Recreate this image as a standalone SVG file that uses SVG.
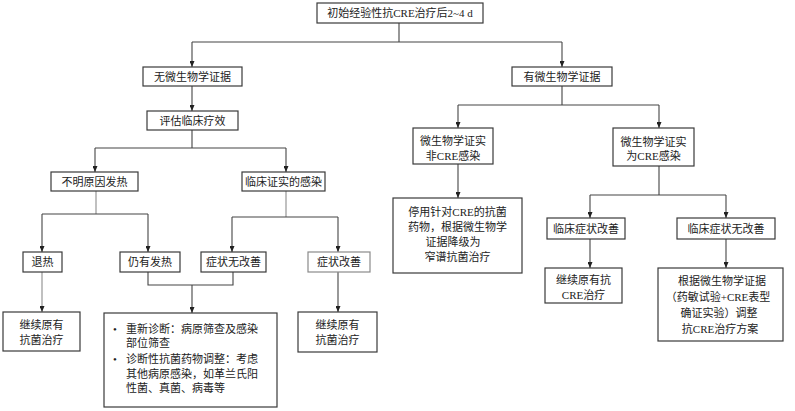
<svg xmlns="http://www.w3.org/2000/svg" width="795" height="411" viewBox="0 0 795 411">
<style>
.box{fill:#fff;stroke:#3a3a3a;stroke-width:1.2}
.lt{stroke:#8a8a8a}
.t{font-family:"Liberation Serif","Noto Sans CJK SC",serif;font-size:11px;fill:#222;text-anchor:middle}
.tl{text-anchor:start}
.c{fill:none;stroke:#444;stroke-width:1.1}
.g{stroke:#8c8c8c}
</style>
<defs>
<marker id="a" markerUnits="userSpaceOnUse" markerWidth="6" markerHeight="5" refX="6" refY="2.5" orient="auto">
<path d="M0,0 L6,2.5 L0,5 z" fill="#222"/>
</marker>
</defs>
<rect width="795" height="411" fill="#fff"/>
<g id="connectors">
<path class="c" d="M399,23 V42 M192,42 H562" />
<path class="c" d="M192,42 V67" marker-end="url(#a)"/>
<path class="c" d="M562,42 V67" marker-end="url(#a)"/>
<path class="c" d="M192,86 V111" marker-end="url(#a)"/>
<path class="c" d="M192,130 V148 M95,148 H286"/>
<path class="c" d="M95,148 V172" marker-end="url(#a)"/>
<path class="c" d="M286,148 V172" marker-end="url(#a)"/>
<path class="c g" d="M96,191 V214"/>
<path class="c" d="M42,214 H148"/>
<path class="c" d="M42,214 V252" marker-end="url(#a)"/>
<path class="c" d="M148,214 V252" marker-end="url(#a)"/>
<path class="c g" d="M286,191 V217"/>
<path class="c" d="M232,217 H338"/>
<path class="c" d="M232,217 V252" marker-end="url(#a)"/>
<path class="c" d="M338,217 V252" marker-end="url(#a)"/>
<path class="c g" d="M42,272 V312" marker-end="url(#a)"/>
<path class="c" d="M148,272 V285 H233 V272"/>
<path class="c" d="M192,285 V313" marker-end="url(#a)"/>
<path class="c" d="M338,272 V312" marker-end="url(#a)"/>
<path class="c" d="M562,86 V105 M458,105 H659"/>
<path class="c" d="M458,105 V128" marker-end="url(#a)"/>
<path class="c" d="M659,105 V128" marker-end="url(#a)"/>
<path class="c" d="M458,164 V198" marker-end="url(#a)"/>
<path class="c" d="M659,166 V195 M590,195 H726"/>
<path class="c" d="M590,195 V218" marker-end="url(#a)"/>
<path class="c" d="M726,195 V218" marker-end="url(#a)"/>
<path class="c" d="M590,239 V268" marker-end="url(#a)"/>
<path class="c" d="M726,239 V268" marker-end="url(#a)"/>
</g>
<g id="n_top"><rect class="box" x="317" y="3" width="166" height="20"/><text class="t" x="400" y="17">初始经验性抗CRE治疗后2~4 d</text></g>
<g id="n_nomicro"><rect class="box" x="143" y="67" width="99" height="19"/><text class="t" x="192.5" y="80.5">无微生物学证据</text></g>
<g id="n_eval"><rect class="box" x="147" y="111" width="91" height="19"/><text class="t" x="192.5" y="124.5">评估临床疗效</text></g>
<g id="n_fever"><rect class="box" x="51" y="172" width="87" height="19"/><text class="t" x="94.5" y="185.5">不明原因发热</text></g>
<g id="n_clin"><rect class="box" x="242" y="172" width="83" height="19"/><text class="t" x="283.5" y="185.5">临床证实的感染</text></g>
<g id="n_tuire"><rect class="box" x="23" y="252" width="39" height="20"/><text class="t" x="42.5" y="266">退热</text></g>
<g id="n_still"><rect class="box" x="120" y="252" width="60" height="20"/><text class="t" x="150" y="266">仍有发热</text></g>
<g id="n_noimp"><rect class="box" x="201" y="252" width="65" height="20"/><text class="t" x="233.5" y="266">症状无改善</text></g>
<g id="n_imp"><rect class="box lt" x="308" y="252" width="62" height="20"/><text class="t" x="339" y="266">症状改善</text></g>
<g id="n_cont1"><rect class="box" x="3" y="312" width="77" height="39"/><text class="t" x="41.5" y="329">继续原有</text><text class="t" x="41.5" y="344">抗菌治疗</text></g>
<g id="n_rediag"><rect class="box" x="104" y="313" width="173" height="94"/>
<text class="t tl" x="113" y="333">•</text><text class="t tl" x="126" y="333">重新诊断：病原筛查及感染</text>
<text class="t tl" x="126" y="347">部位筛查</text>
<text class="t tl" x="113" y="363">•</text><text class="t tl" x="126" y="363">诊断性抗菌药物调整：考虑</text>
<text class="t tl" x="126" y="378">其他病原感染，如革兰氏阳</text>
<text class="t tl" x="126" y="392">性菌、真菌、病毒等</text></g>
<g id="n_cont2"><rect class="box" x="298" y="312" width="79" height="40"/><text class="t" x="337.5" y="329">继续原有</text><text class="t" x="337.5" y="344">抗菌治疗</text></g>
<g id="n_micro"><rect class="box" x="512" y="67" width="100" height="19"/><text class="t" x="562" y="80.5">有微生物学证据</text></g>
<g id="n_noncre"><rect class="box" x="413" y="128" width="80" height="36"/><text class="t" x="453" y="145">微生物学证实</text><text class="t" x="453" y="160">非CRE感染</text></g>
<g id="n_cre"><rect class="box" x="613" y="128" width="81" height="38"/><text class="t" x="653.5" y="146">微生物学证实</text><text class="t" x="653.5" y="160">为CRE感染</text></g>
<g id="n_stop"><rect class="box" x="393" y="198" width="129" height="75"/><text class="t" x="457.5" y="216">停用针对CRE的抗菌</text><text class="t" x="457.5" y="231">药物，根据微生物学</text><text class="t" x="453" y="246">证据降级为</text><text class="t" x="457.5" y="261">窄谱抗菌治疗</text></g>
<g id="n_cimp"><rect class="box" x="547" y="218" width="78" height="21"/><text class="t" x="586" y="232.5">临床症状改善</text></g>
<g id="n_cnoimp"><rect class="box" x="677" y="218" width="98" height="21"/><text class="t" x="726" y="232.5">临床症状无改善</text></g>
<g id="n_contcre"><rect class="box" x="545" y="268" width="77" height="35"/><text class="t" x="583.5" y="284">继续原有抗</text><text class="t" x="583.5" y="299">CRE治疗</text></g>
<g id="n_adjust"><rect class="box" x="658" y="268" width="125" height="73"/><text class="t" x="722" y="285">根据微生物学证据</text><text class="t" x="718" y="301">（药敏试验+CRE表型</text><text class="t" x="719" y="317">确证实验）调整</text><text class="t" x="720" y="333">抗CRE治疗方案</text></g>
</svg>
